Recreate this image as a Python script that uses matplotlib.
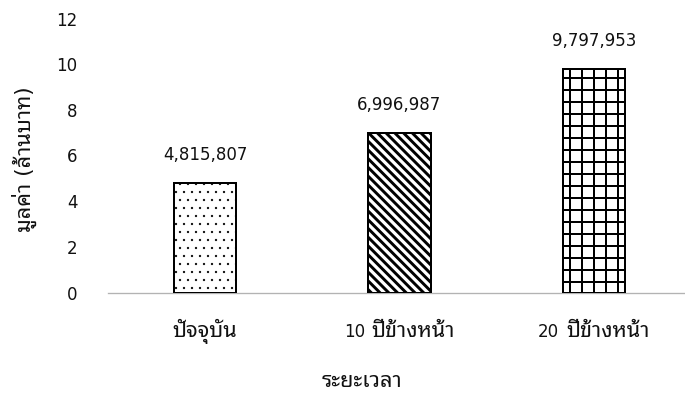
import re
import numpy as np
import matplotlib
matplotlib.use("Agg")
import matplotlib.pyplot as plt
from matplotlib import font_manager
from matplotlib.ft2font import FT2Font
from matplotlib.backend_bases import GraphicsContextBase
from matplotlib.offsetbox import TextArea, HPacker, AnnotationBbox

# Data: asset value over time (baht), plotted in millions
categories = ["ปัจจุบัน", "10 ปีข้างหน้า", "20 ปีข้างหน้า"]
values_baht = [4815807, 6996987, 9797953]
y_ticks = [0, 2, 4, 6, 8, 10, 12]
x_title = "ระยะเวลา"
y_title = "มูลค่า (ล้านบาท)"

values_million = [v / 1e6 for v in values_baht]

# Hatch fill per bar: fine dots, diagonal stripes, square grid
hatches = ["." * 12, "\\" * 22, "+" * 8]
hatch_widths = [0.5, 2.2, 1.5]

# Hatch strings above give line counts directly (one line per character)
_base_hatch_path = GraphicsContextBase.get_hatch_path


def _unit_density_hatch_path(self, density=1.0):
    return _base_hatch_path(self, density=1.0)


GraphicsContextBase.get_hatch_path = _unit_density_hatch_path


def thai_family():
    found = {}
    for entry in font_manager.fontManager.ttflist:
        if entry.name in found:
            continue
        try:
            cmap = FT2Font(entry.fname).get_charmap()
        except Exception:
            continue
        if 0x0E1B in cmap and 0x0E31 in cmap and 0x0E49 in cmap:
            found[entry.name] = entry.fname
    preferred = ["Tahoma", "Noto Sans Thai Looped", "Noto Sans Thai",
                 "Noto Sans Thai UI", "Sarabun", "Loma", "Garuda"]
    return next((n for n in preferred if n in found), next(iter(found), None))


fam = thai_family()
plt.rcParams["font.family"] = ["DejaVu Sans"] + ([fam] if fam else [])

TXT = "#111111"
DPI = 96
W, H = 685, 393
FS_NUM = 12.5
FS_THAI = 16.3

fig = plt.figure(figsize=(W / DPI, H / DPI), dpi=DPI)
fig.patch.set_facecolor("white")

# plot area in pixel terms: x from 108 to 691, y=0 at 292.5, y=12 at 18.5
ax = fig.add_axes([108 / W, (H - 292.5) / H, (691 - 108) / W, (292.5 - 18.5) / H])

x = np.arange(len(categories))
bars = ax.bar(x, values_million, width=0.32, color="white",
              edgecolor="black", linewidth=1.5, zorder=3)
for bar, h, lw in zip(bars, hatches, hatch_widths):
    bar.set_hatch(h)
    if hasattr(bar, "set_hatch_linewidth"):
        bar.set_hatch_linewidth(lw)

for xi, v, vb in zip(x, values_million, values_baht):
    ax.annotate(f"{vb:,}", xy=(xi, v), xytext=(0, 21),
                textcoords="offset points", ha="center", va="center",
                fontsize=FS_NUM, color=TXT)

ax.set_xlim(-0.5, 2.5)
ax.set_ylim(0, 12)
ax.set_yticks(y_ticks)
ax.set_yticklabels([str(t) for t in y_ticks], fontsize=FS_NUM, color=TXT)
ax.set_xticks(x)
ax.set_xticklabels([""] * len(categories))

# Category labels: numerals in the Latin face, Thai words in the Thai face
for xi, label in zip(x, categories):
    m = re.match(r"^(\d+)\s+(.*)$", label)
    if m:
        parts = [(m.group(1), FS_NUM), (m.group(2), FS_THAI)]
    else:
        parts = [(label, FS_THAI)]
    areas = [TextArea(t, textprops=dict(fontsize=fs, color=TXT)) for t, fs in parts]
    box = HPacker(children=areas, align="baseline", pad=0, sep=5)
    ab = AnnotationBbox(box, (xi, 0), xycoords="data", xybox=(0, -29),
                        boxcoords="offset points", box_alignment=(0.5, 0.5),
                        frameon=False, pad=0, annotation_clip=False)
    ax.add_artist(ab)

for side in ("top", "right", "left"):
    ax.spines[side].set_visible(False)
ax.spines["bottom"].set_color("#b3b3b3")
ax.spines["bottom"].set_linewidth(1.0)
ax.spines["bottom"].set_zorder(2)

ax.tick_params(axis="both", length=0)
ax.tick_params(axis="y", pad=23)

fig.text(24 / W, 1 - 159 / H, y_title, rotation=90, ha="center",
         va="center", fontsize=FS_THAI, color=TXT)
fig.text(362 / W, 1 - 381 / H, x_title, ha="center", va="center",
         fontsize=FS_THAI, color=TXT)

fig.savefig("out.png", dpi=DPI, facecolor="white")
